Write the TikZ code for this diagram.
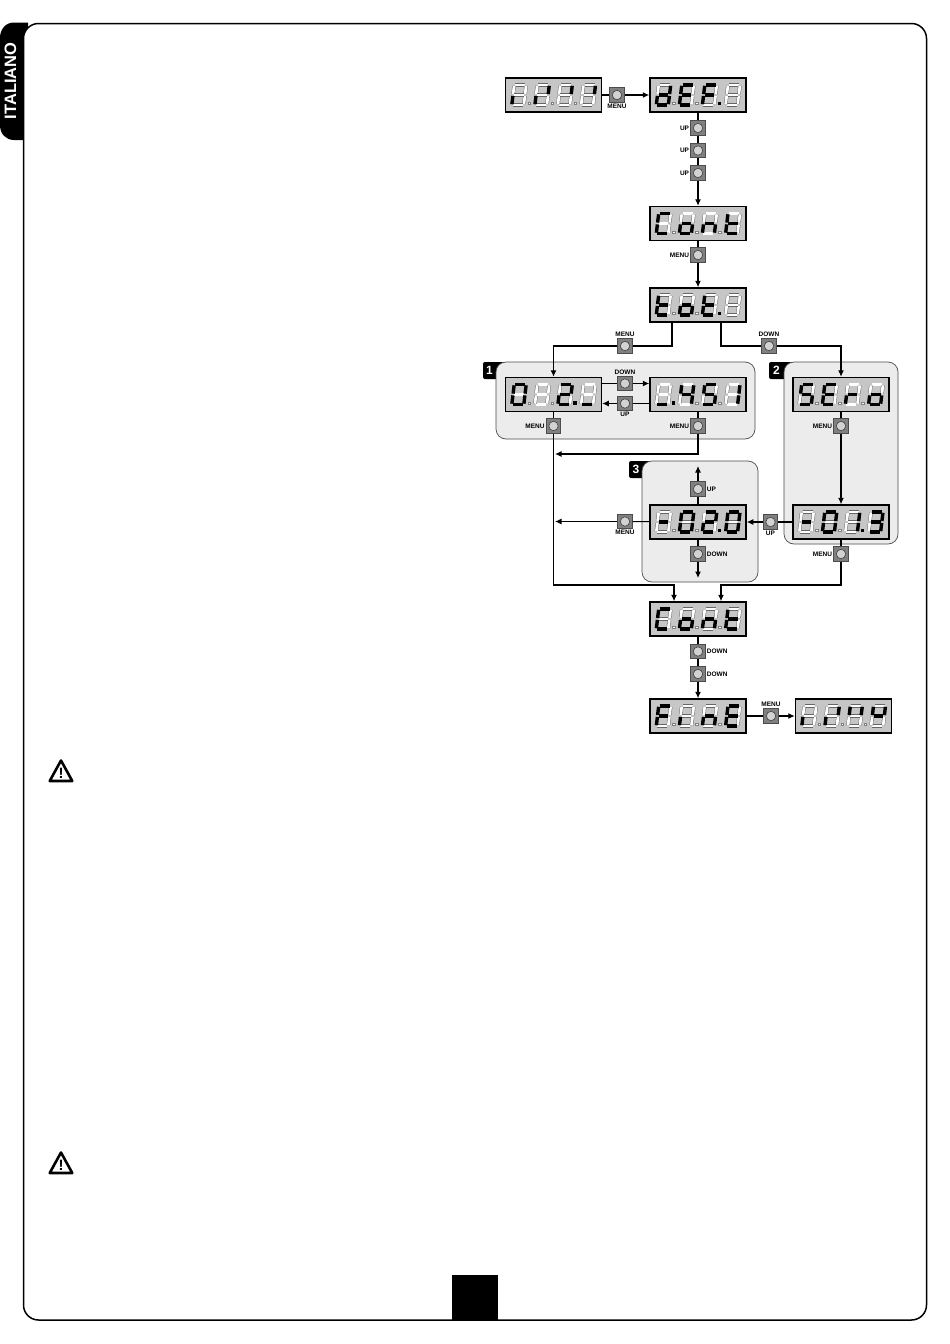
\documentclass[tikz,border=0pt]{standalone}
\usepackage{fontspec}
\setmainfont{Liberation Sans}
\usepackage{tikz}
\usetikzlibrary{arrows.meta}

\definecolor{lcdgray}{HTML}{C6C6C6}
\definecolor{panelgray}{HTML}{ECECEC}
\definecolor{btngray}{HTML}{808080}
\definecolor{ledgray}{HTML}{D2D2D2}

\tikzset{
  lcdbox/.style={draw=black,line width=1.5pt,fill=lcdgray,minimum width=96pt,minimum height=34pt,inner sep=0pt},
  segon/.style={black,line width=3.4pt},
  segoff/.style={black!60,line width=0.45pt,double=white,double distance=2.7pt},
  btnbox/.style={draw=black!70,line width=0.6pt,fill=btngray,minimum size=14.5pt,inner sep=0pt},
  btnled/.style={draw=black!75,line width=0.6pt,fill=ledgray},
  btntext/.style={font=\bfseries\fontsize{6.5}{6.5}\selectfont,inner sep=1.2pt},
  flow/.style={line width=1.1pt,black},
  panel/.style={draw=black!70,line width=0.7pt,fill=panelgray,rounded corners=10pt},
  tagtext/.style={text=white,font=\bfseries\fontsize{12}{12}\selectfont,inner sep=0pt},
}

\makeatletter
% one digit, #2 = lit segments (x for none)
\newcommand{\lcddigit}[2]{%
  \begin{scope}[shift={(#1,0)},xslant=0.12]
    \foreach \s/\xa/\ya/\xb/\yb in {a/-5/-10/5/-10,b/6/-9.2/6/-0.9,c/6/0.9/6/9.2,d/-5/10/5/10,e/-6/0.9/-6/9.2,f/-6/-9.2/-6/-0.9,g/-4.8/0/4.8/0}{
      \edef\lcdtest{\noexpand\in@{\s}{#2}}\lcdtest
      \ifin@\else
        \draw[segoff] (\xa,\ya) -- (\xb,\yb);
      \fi
    }
    \foreach \s/\xa/\ya/\xb/\yb in {a/-5/-10/5/-10,b/6/-9.2/6/-0.9,c/6/0.9/6/9.2,d/-5/10/5/10,e/-6/0.9/-6/9.2,f/-6/-9.2/-6/-0.9,g/-4.8/0/4.8/0}{
      \edef\lcdtest{\noexpand\in@{\s}{#2}}\lcdtest
      \ifin@
        \draw[segon] (\xa,\ya) -- (\xb,\yb);
      \fi
    }
  \end{scope}}
% display: name, position, four digits, lit dots
\newcommand{\lcd}[7]{%
  \node[lcdbox] (#1) at (#2) {};
  \begin{scope}[shift={(#1.center)}]
    \foreach \dx/\segs in {-34.5/#3,-11.4/#4,11.6/#5,34.8/#6}{\lcddigit{\dx}{\segs}}
    \foreach \n/\dx in {1/-24.5,2/-1.5,3/21.5}{
      \edef\lcdtest{\noexpand\in@{\n}{#7}}\lcdtest
      \ifin@
        \fill[black] (\dx-1.7,6.6) rectangle (\dx+1.7,10);
      \else
        \draw[black!50,fill=white,line width=0.3pt] (\dx-1.2,7.2) rectangle (\dx+1.2,9.6);
      \fi
    }
  \end{scope}}
\makeatother

\newcommand{\btn}[3]{%
  \node[btnbox,label={[btntext,name=#1-t]#3}] (#1) at (#2) {};
  \draw[btnled] (#1) circle (4.7);}

\newcommand{\warn}[2]{%
  \coordinate (#1) at (#2);
  \draw[line width=2.6pt,line join=round,fill=white] (#1) ++(0,-10.5) -- ++(11.3,20.5) -- ++(-22.6,0) -- cycle;
  \node[font=\bfseries\fontsize{15}{15}\selectfont,inner sep=0pt] (#1-t) at (#1) [yshift=-2pt] {!};}

\begin{document}
\begin{tikzpicture}[x=1pt,y=-1pt,>={Latex[length=6.5pt,width=6pt]}]
\useasboundingbox (0,0) rectangle (950,1344);
\fill[white] (0,0) rectangle (950,1344);

% page frame and tab
\fill[black] (28,22.5) -- (14,22.5) .. controls (5,22.5) and (0,30) .. (0,38) -- (0,125) .. controls (0,134) and (6,140) .. (14,140) -- (24,140) -- (28,140) -- cycle;
\draw[line width=1.5pt,fill=white,rounded corners=15pt] (23.5,23.5) rectangle (926.5,1320);
\node[rotate=90,text=white,font=\bfseries\fontsize{16.5}{16.5}\selectfont,inner sep=0pt] (tabtext) at (10.5,81) {ITALIANO};
\fill[black] (452,1275) rectangle (498,1320);

\warn{warna}{61,771}
\warn{warnb}{61,1163}

% grey panels with their tags
\fill[black,rounded corners=2pt] (483,362) rectangle (510,379);
\fill[black,rounded corners=2pt] (769,362) rectangle (800,379);
\fill[black,rounded corners=2pt] (629,461) rectangle (660,478);
\draw[panel] (496,362) rectangle (755,439);
\draw[panel] (784,362) rectangle (898,544);
\draw[panel] (642,461) rectangle (758,582);
\node[tagtext] (taga) at (489.5,370.5) {1};
\node[tagtext] (tagb) at (776.5,370.5) {2};
\node[tagtext] (tagc) at (636,469.5) {3};

% displays
\lcd{dstart}{553.5,95}{e}{be}{b}{b}{x}
\lcd{ddef}{698,95}{bcdeg}{adefg}{aefg}{x}{3}
\lcd{dconta}{698,223.5}{adef}{cdeg}{ceg}{defg}{x}
\lcd{dtot}{698,305}{defg}{cdeg}{defg}{x}{3}
\lcd{dnum}{553.5,394.5}{abcdef}{x}{abdeg}{d}{3}
\lcd{dhrs}{698,394.5}{d}{bcfg}{acdfg}{bc}{1}
\lcd{dsero}{841,394.5}{acdfg}{adefg}{eg}{cdeg}{x}
\lcd{dparam}{698,522}{g}{abcdef}{abdeg}{abcdef}{3}
\lcd{derr}{841,522}{g}{abcdef}{bc}{abcdg}{3}
\lcd{dcontb}{698,619}{adef}{cdeg}{ceg}{defg}{x}
\lcd{dfine}{698,716}{aefg}{e}{ceg}{adefg}{x}
\lcd{dlast}{843.5,716}{e}{be}{bf}{bfg}{x}

% buttons
\btn{bmenua}{617,95}{below:MENU}
\btn{bupa}{698,128}{left:UP}
\btn{bupb}{698,150.5}{left:UP}
\btn{bupc}{698,173}{left:UP}
\btn{bmenub}{698,255}{left:MENU}
\btn{bmenuc}{625,346}{above:MENU}
\btn{bdownc}{769,346}{above:DOWN}
\btn{bdownd}{625,383.5}{above:DOWN}
\btn{bupd}{625,403.5}{below:UP}
\btn{bmenud}{553.5,426}{left:MENU}
\btn{bmenue}{698,426}{left:MENU}
\btn{bmenuf}{841,426}{left:MENU}
\btn{bupg}{698,489}{right:UP}
\btn{bmenug}{625,521.5}{below:MENU}
\btn{bupf}{770.5,522}{below:UP}
\btn{bdowng}{698,554}{right:DOWN}
\btn{bmenuh}{841,554}{left:MENU}
\btn{bdownh}{698,651.5}{right:DOWN}
\btn{bdowni}{698,674}{right:DOWN}
\btn{bmenui}{771,716}{above:MENU}

% free ends and bends
\coordinate (totl) at (672,322);
\coordinate (totr) at (721,322);
\coordinate (botl) at (674,585);
\coordinate (botr) at (721,585);
\coordinate (joina) at (555,454);
\coordinate (joinb) at (555,521.5);
\coordinate (upend) at (698,466);
\coordinate (dnend) at (698,578);

% connectors
\draw[flow] (dstart) -- (bmenua);
\draw[flow,->] (bmenua) -- (ddef);
\draw[flow] (ddef) -- (bupa);
\draw[flow] (bupa) -- (bupb);
\draw[flow] (bupb) -- (bupc);
\draw[flow,->] (bupc) -- (dconta);
\draw[flow] (dconta) -- (bmenub);
\draw[flow,->] (bmenub) -- (dtot);
\draw[flow] (totl) |- (bmenuc);
\draw[flow,->] (bmenuc) -| (dnum);
\draw[flow] (totr) |- (bdownc);
\draw[flow,->] (bdownc) -| (dsero);
\draw[flow] (dnum.east |- bdownd) -- (bdownd);
\draw[flow,->] (bdownd) -- (bdownd -| dhrs.west);
\draw[flow] (dhrs.west |- bupd) -- (bupd);
\draw[flow,->] (bupd) -- (bupd -| dnum.east);
\draw[flow] (dnum) -- (bmenud);
\draw[flow,->] (bmenud) |- (botl) -- (botl |- dcontb.north);
\draw[flow] (dhrs) -- (bmenue);
\draw[flow,->] (bmenue) |- (joina);
\draw[flow] (dsero) -- (bmenuf);
\draw[flow,->] (bmenuf) -- (derr);
\draw[flow] (derr) -- (bupf);
\draw[flow,->] (bupf) -- (dparam);
\draw[flow] (dparam) -- (bmenug);
\draw[flow,->] (bmenug) -- (joinb);
\draw[flow] (dparam) -- (bupg);
\draw[flow,->] (bupg) -- (upend);
\draw[flow] (dparam) -- (bdowng);
\draw[flow,->] (bdowng) -- (dnend);
\draw[flow] (derr) -- (bmenuh);
\draw[flow,->] (bmenuh) |- (botr) -- (botr |- dcontb.north);
\draw[flow] (dcontb) -- (bdownh);
\draw[flow] (bdownh) -- (bdowni);
\draw[flow,->] (bdowni) -- (dfine);
\draw[flow] (dfine) -- (bmenui);
\draw[flow,->] (bmenui) -- (dlast);
\end{tikzpicture}
\end{document}
